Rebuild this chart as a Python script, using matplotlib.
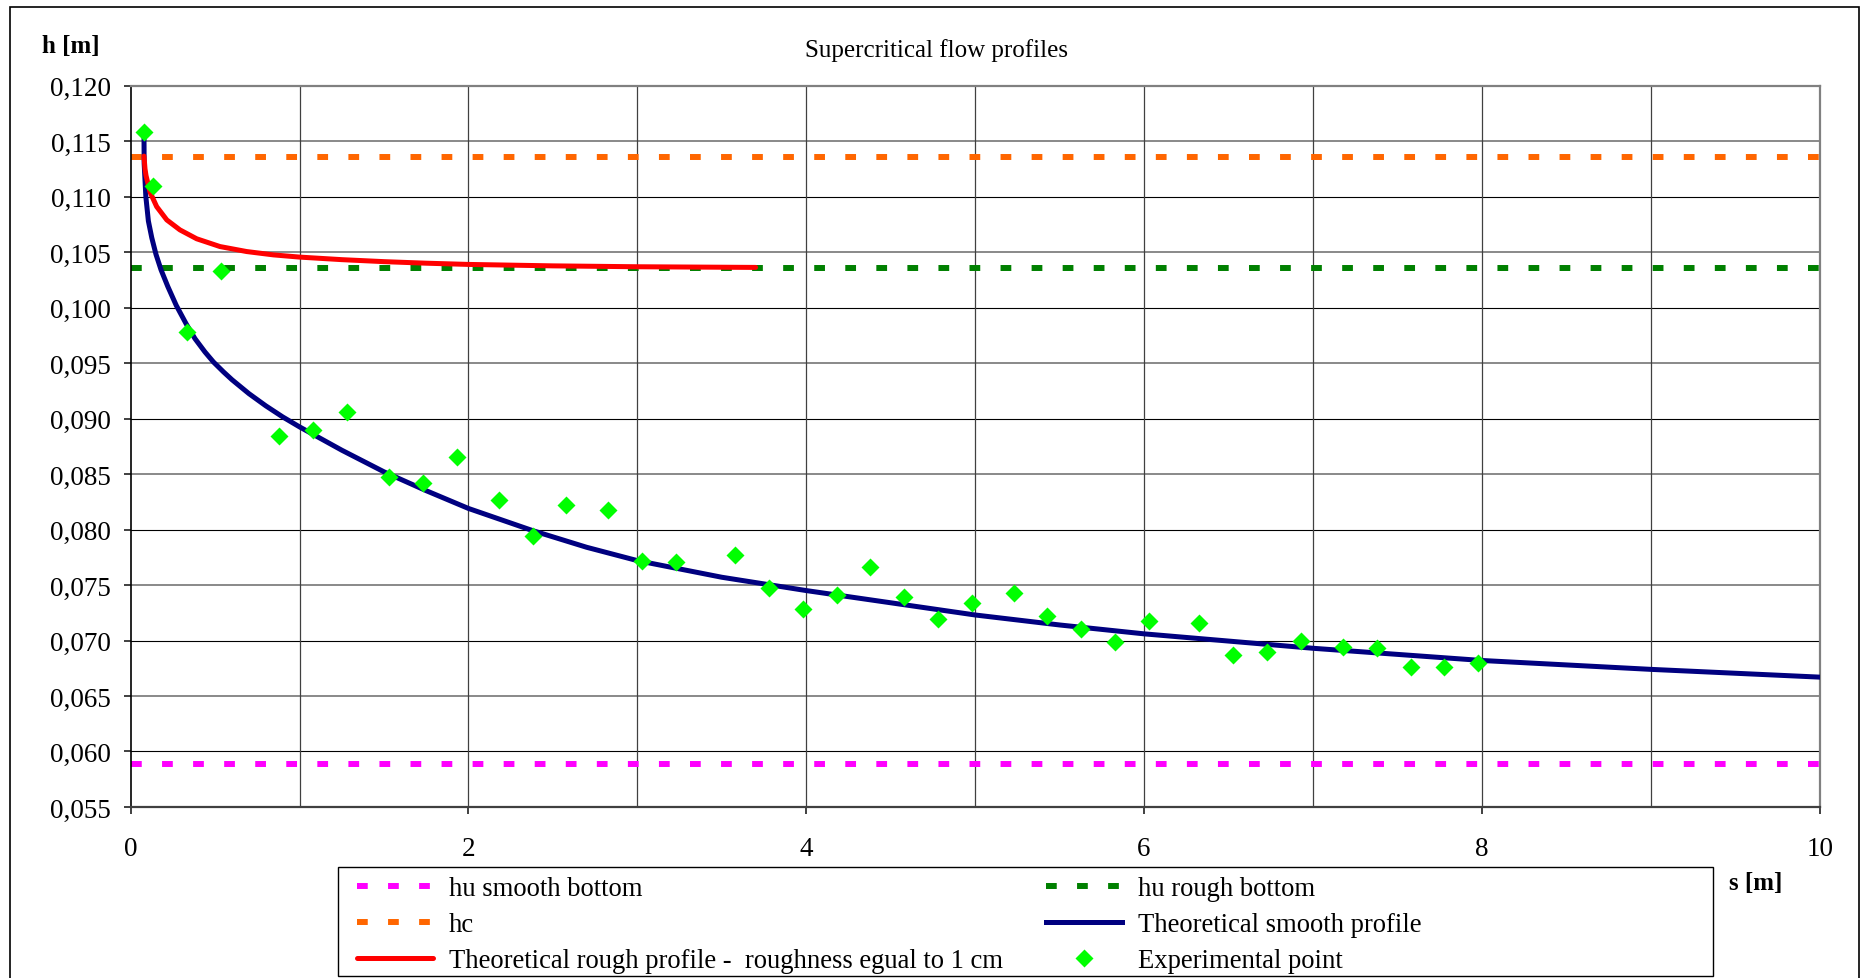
#!/usr/bin/env python3

import matplotlib as mpl
mpl.use("Agg")
import matplotlib.pyplot as plt
from matplotlib.patches import Rectangle
from matplotlib.ticker import FuncFormatter, MultipleLocator

plt.rcParams["font.family"] = ["Liberation Serif", "DejaVu Serif"]

# constant depths [m]
hu_smooth = 0.0589
hu_rough = 0.1036
hc = 0.1136

# theoretical smooth profile
s_smooth = [0.079, 0.080, 0.090, 0.105, 0.125, 0.150, 0.180, 0.220, 0.270, 0.330,
	0.381, 0.440, 0.490, 0.550, 0.600, 0.700, 0.800, 0.900, 1.000, 1.250,
	1.500, 1.750, 2.000, 2.381, 2.700, 3.000, 3.500, 4.000, 4.500, 5.000,
	5.500, 6.000, 7.000, 8.000, 9.000, 10.000]
h_smooth = [0.1156, 0.1130, 0.1100, 0.1078, 0.1063, 0.1048, 0.1034, 0.1019, 0.1002, 0.0985,
	0.0972, 0.0960, 0.0951, 0.0942, 0.0935, 0.09225, 0.09115, 0.09015, 0.08925, 0.08715,
	0.0852, 0.0835, 0.0819, 0.0799, 0.0784, 0.0772, 0.0757, 0.0745, 0.0734, 0.0723,
	0.0714, 0.0706, 0.0693, 0.0682, 0.0674, 0.0667]

# theoretical rough profile, roughness 1 cm
s_rough = [0.079, 0.085, 0.091, 0.115, 0.154, 0.214, 0.292, 0.391, 0.529, 0.687,
	0.845, 1.000, 1.250, 1.500, 1.750, 2.000, 2.500, 3.000, 3.700]
h_rough = [0.11365, 0.1125, 0.1119, 0.1104, 0.1091, 0.1079, 0.1070, 0.1062, 0.1055, 0.10505,
	0.10475, 0.10455, 0.10432, 0.10414, 0.10400, 0.10389, 0.10376, 0.10368, 0.10362]

# experimental points
s_exp = [0.081, 0.133, 0.332, 0.533, 0.881, 1.078, 1.279, 1.532, 1.729, 1.931,
	2.179, 2.381, 2.578, 2.828, 3.030, 3.229, 3.580, 3.782, 3.979, 4.180,
	4.380, 4.579, 4.778, 4.980, 5.229, 5.426, 5.627, 5.830, 6.029, 6.327,
	6.529, 6.726, 6.928, 7.180, 7.378, 7.579, 7.778, 7.979]
h_exp = [0.1158, 0.1110, 0.0978, 0.1033, 0.0884, 0.0890, 0.0906, 0.0847, 0.0842, 0.0865,
	0.0827, 0.0794, 0.0822, 0.0818, 0.0772, 0.0771, 0.0777, 0.0747, 0.0728, 0.0741,
	0.0766, 0.0739, 0.0719, 0.0734, 0.0743, 0.0722, 0.0710, 0.0699, 0.0718, 0.0716,
	0.0687, 0.0690, 0.0700, 0.0694, 0.0693, 0.0676, 0.0676, 0.0680]

labels = ["hu smooth bottom", "hc", "Theoretical rough profile -  roughness egual to 1 cm",
	"hu rough bottom", "Theoretical smooth profile", "Experimental point"]

dots = (0, (1.8, 3.4))

fig = plt.figure(figsize=(18.61, 9.79), dpi=100)
ax = fig.add_axes([0.0702, 0.1747, 0.9076, 0.7368])

ax.set_xlim(0, 10)
ax.set_ylim(0.055, 0.120)

# grid: Excel-like major gridlines
for i, v in enumerate([0.060, 0.065, 0.070, 0.075, 0.080, 0.085, 0.090, 0.095, 0.100, 0.105, 0.110, 0.115]):
	if i % 2 == 0:
		ax.axhline(v, color="black", lw=0.8, zorder=1)
	else:
		ax.axhline(v, color="#808080", lw=1.3, zorder=1)
for v in range(1, 10):
	ax.axvline(v, color="#404040", lw=0.9, zorder=1)

xr = [0, 10.04]
l1, = ax.plot(xr, [hu_smooth] * 2, color="#FF00FF", lw=4.3, ls=dots, clip_on=False, zorder=2)
l2, = ax.plot(xr, [hc] * 2, color="#FF6600", lw=4.3, ls=dots, clip_on=False, zorder=2)
l4, = ax.plot(xr, [hu_rough] * 2, color="#008000", lw=4.3, ls=dots, clip_on=False, zorder=2)
l5, = ax.plot(s_smooth, h_smooth, color="#000080", lw=3.6, zorder=3, solid_joinstyle="round")
l3, = ax.plot(s_rough, h_rough, color="#FF0000", lw=3.6, zorder=4,
	solid_capstyle="round", solid_joinstyle="round")
l6, = ax.plot(s_exp, h_exp, ls="none", marker="D", ms=9, color="#00FF00", mec="none", zorder=5, clip_on=False)

ax.xaxis.set_major_locator(MultipleLocator(2))
ax.xaxis.set_minor_locator(MultipleLocator(1))
ax.yaxis.set_major_locator(MultipleLocator(0.005))
ax.yaxis.set_major_formatter(FuncFormatter(lambda v, p: "{:.3f}".format(v).replace(".", ",")))
ax.tick_params(axis="both", which="major", direction="out", length=5, width=1.2,
	labelsize=19.5, pad=9, color="#202020")
ax.tick_params(axis="x", which="major", pad=16)
ax.tick_params(axis="x", which="minor", length=0)

ax.spines["left"].set_color("black")
ax.spines["left"].set_linewidth(1.2)
ax.spines["bottom"].set_color("#404040")
ax.spines["bottom"].set_linewidth(1.6)
for side in ["top", "right"]:
	ax.spines[side].set_color("#808080")
	ax.spines[side].set_linewidth(1.6)

fig.text(0.503, 0.948, "Supercritical flow profiles", ha="center", va="center", fontsize=18)
fig.text(0.0382, 0.953, "h [m]", ha="center", va="center", fontsize=18, fontweight="bold")
fig.text(0.9436, 0.098, "s [m]", ha="center", va="center", fontsize=18, fontweight="bold")

# legend (Excel box is wider than its contents, so draw the frame separately)
leg = fig.legend([l1, l2, l3, l4, l5, l6], labels, ncol=2, loc="upper left",
	bbox_to_anchor=(357 / 1861, 1 - 877 / 979), frameon=False, fontsize=19.2,
	handlelength=2.84, handletextpad=0.6, columnspacing=1.62, labelspacing=0.42,
	borderpad=0.0, borderaxespad=0.0, numpoints=1)
fig.add_artist(Rectangle((338 / 1861, 1 - 977 / 979), (1713 - 338) / 1861, 109 / 979,
	transform=fig.transFigure, fill=False, ec="black", lw=1.0))

# outer chart border
fig.add_artist(Rectangle((10 / 1861, -0.01), (1859 - 10) / 1861, 1.01 - 8 / 979,
	transform=fig.transFigure, fill=False, ec="black", lw=1.2, clip_on=False))

fig.savefig("out.png", dpi=100)
